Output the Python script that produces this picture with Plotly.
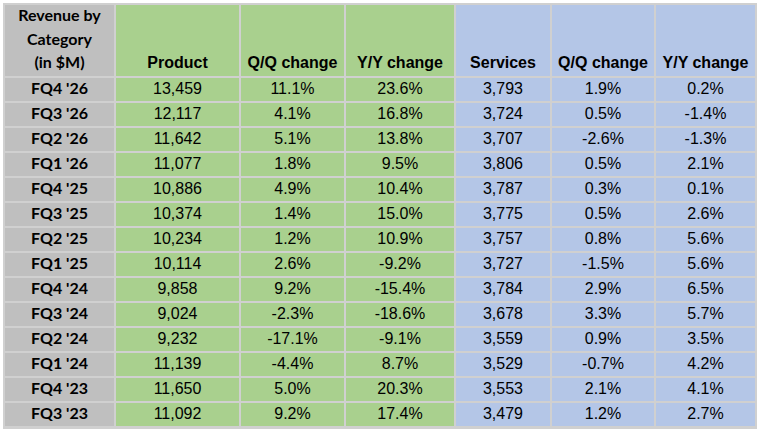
import plotly.graph_objects as go

# Quarterly revenue by category (in $M)
quarters = ["FQ4 '26", "FQ3 '26", "FQ2 '26", "FQ1 '26", "FQ4 '25", "FQ3 '25", "FQ2 '25",
            "FQ1 '25", "FQ4 '24", "FQ3 '24", "FQ2 '24", "FQ1 '24", "FQ4 '23", "FQ3 '23"]
product = [13459, 12117, 11642, 11077, 10886, 10374, 10234, 10114, 9858, 9024, 9232, 11139, 11650, 11092]
product_qq = [11.1, 4.1, 5.1, 1.8, 4.9, 1.4, 1.2, 2.6, 9.2, -2.3, -17.1, -4.4, 5.0, 9.2]
product_yy = [23.6, 16.8, 13.8, 9.5, 10.4, 15.0, 10.9, -9.2, -15.4, -18.6, -9.1, 8.7, 20.3, 17.4]
services = [3793, 3724, 3707, 3806, 3787, 3775, 3757, 3727, 3784, 3678, 3559, 3529, 3553, 3479]
services_qq = [1.9, 0.5, -2.6, 0.5, 0.3, 0.5, 0.8, -1.5, 2.9, 3.3, 0.9, -0.7, 2.1, 1.2]
services_yy = [0.2, -1.4, -1.3, 2.1, 0.1, 2.6, 5.6, 5.6, 6.5, 5.7, 3.5, 4.2, 4.1, 2.7]

headers = ["Revenue by<br>Category<br>(in $M)", "Product", "Q/Q change", "Y/Y change",
           "Services", "Q/Q change", "Y/Y change"]

# layout of the sheet, in pixels
col_widths = [111, 125, 105, 110, 96, 104, 101]
header_h = 73
row_h = 25
left, top = 4, 4

GRAY = '#BFBFBF'
GREEN = '#A9D08E'
BLUE = '#B4C6E7'
BORDER = '#D0D0D0'
col_group = [0, 1, 1, 1, 2, 2, 2]   # 0 = label, 1 = product, 2 = services


def pct(vals):
    return ['{:.1f}%'.format(v) for v in vals]


def num(vals):
    return ['{:,}'.format(v) for v in vals]


columns = [quarters, num(product), pct(product_qq), pct(product_yy),
           num(services), pct(services_qq), pct(services_yy)]

# cell edges
x_edges = [left]
for w in col_widths:
    x_edges.append(x_edges[-1] + w)
y_edges = [top, top + header_h]
for _ in quarters:
    y_edges.append(y_edges[-1] + row_h)

x_mid = [(a + b) / 2 for a, b in zip(x_edges[:-1], x_edges[1:])]
y_mid = [(a + b) / 2 for a, b in zip(y_edges[1:-1], y_edges[2:])]

z = [col_group[:] for _ in range(len(quarters) + 1)]

fig = go.Figure()

fig.add_trace(go.Heatmap(
    x=x_edges,
    y=y_edges,
    z=z,
    zmin=0,
    zmax=2,
    colorscale=[[0, GRAY], [0.5, GREEN], [1, BLUE]],
    showscale=False,
    xgap=2,
    ygap=2,
    hoverinfo='skip',
))

# header texts, aligned to the bottom of the header cell
header_base = top + header_h - 13
line_step = 23.5
for i, h in enumerate(headers):
    lines = h.split('<br>')
    n = len(lines)
    fam = 'Lato' if i == 0 else 'Liberation Sans'
    fig.add_trace(go.Scatter(
        x=[x_mid[i]] * n,
        y=[header_base - (n - 1 - k) * line_step for k in range(n)],
        text=['<b>' + t + '</b>' for t in lines],
        mode='text',
        textposition='middle center',
        textfont=dict(family=fam, size=16, color='black'),
        hoverinfo='skip',
        showlegend=False,
    ))

# body texts
for i, col in enumerate(columns):
    if i == 0:
        txt = ['<b>' + t + '</b>' for t in col]
        font = dict(family='Lato', size=16, color='black')
    else:
        txt = col
        font = dict(family='Liberation Sans', size=16, color='black')
    fig.add_trace(go.Scatter(
        x=[x_mid[i]] * len(col),
        y=y_mid,
        text=txt,
        mode='text',
        textposition='middle center',
        textfont=font,
        hoverinfo='skip',
        showlegend=False,
    ))

fig.update_layout(
    width=761,
    height=430,
    margin=dict(l=3, r=4, t=3, b=1),
    paper_bgcolor='white',
    plot_bgcolor=BORDER,
    xaxis=dict(range=[3, 757], visible=False, fixedrange=True),
    yaxis=dict(range=[429, 3], visible=False, fixedrange=True),
    showlegend=False,
)

# page body has a default margin; drop it so the figure sits at the window corner
fig.write_html("out.html", config={'displayModeBar': False},
               post_script="document.body.style.margin='0';")
